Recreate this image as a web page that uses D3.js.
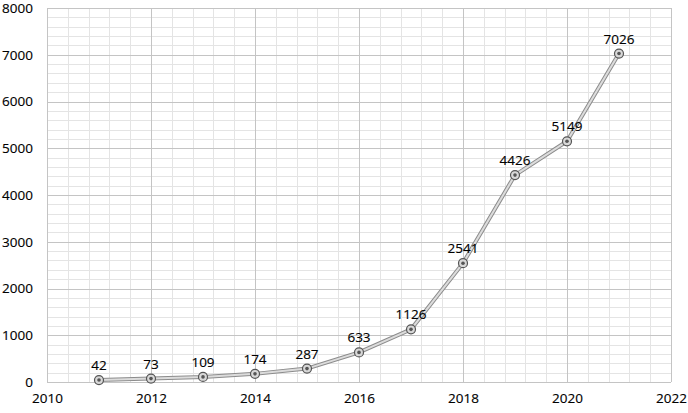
<!DOCTYPE html>
<html>
<head>
<meta charset="utf-8">
<script src="https://cdn.jsdelivr.net/npm/d3@7"></script>
<style>
  body { margin: 0; background: #fff; }
  text { font-family: "Open Sans", sans-serif; }
</style>
</head>
<body>
<svg id="chart"></svg>
<script>
const years = [2011, 2012, 2013, 2014, 2015, 2016, 2017, 2018, 2019, 2020, 2021];
const counts = [42, 73, 109, 174, 287, 633, 1126, 2541, 4426, 5149, 7026];
const xTicks = [2010, 2012, 2014, 2016, 2018, 2020, 2022];
const yTicks = [0, 1000, 2000, 3000, 4000, 5000, 6000, 7000, 8000];

const data = years.map((y, i) => ({ year: y, value: counts[i] }));

const margin = { top: 8, bottom: 31, left: 47, right: 17 };
const W = 688, H = 413;
const width = W - margin.left - margin.right;
const height = H - margin.top - margin.bottom;

const svg = d3.select("#chart").attr("width", W).attr("height", H);
const g = svg.append("g").attr("transform", `translate(${margin.left},${margin.top})`);

const xscale = d3.scaleLinear().domain([2010, 2022]).range([0, width]);
const yscale = d3.scaleLinear().domain([0, 8000]).range([height, 0]);

// minor grid
const xMinor = d3.range(2010, 2022.001, 0.4);
const yMinor = d3.range(0, 8000.1, 200);
g.append("g").selectAll("line").data(xMinor).join("line")
  .attr("x1", d => Math.round(xscale(d)) + 0.5).attr("x2", d => Math.round(xscale(d)) + 0.5)
  .attr("y1", 0).attr("y2", height)
  .attr("stroke", "#e4e4e4").attr("stroke-width", 1);
g.append("g").selectAll("line").data(yMinor).join("line")
  .attr("y1", d => Math.round(yscale(d)) + 0.5).attr("y2", d => Math.round(yscale(d)) + 0.5)
  .attr("x1", 0).attr("x2", width)
  .attr("stroke", "#e4e4e4").attr("stroke-width", 1);

// major grid
g.append("g").selectAll("line").data(xTicks).join("line")
  .attr("x1", d => Math.round(xscale(d)) + 0.5).attr("x2", d => Math.round(xscale(d)) + 0.5)
  .attr("y1", 0).attr("y2", height)
  .attr("stroke", "#c4c4c4").attr("stroke-width", 1);
g.append("g").selectAll("line").data(yTicks).join("line")
  .attr("y1", d => Math.round(yscale(d)) + 0.5).attr("y2", d => Math.round(yscale(d)) + 0.5)
  .attr("x1", 0).attr("x2", width)
  .attr("stroke", "#c4c4c4").attr("stroke-width", 1);

// axes
const xaxis = d3.axisBottom(xscale).tickValues(xTicks).tickFormat(d3.format("d")).tickSize(0).tickPadding(11);
const yaxis = d3.axisLeft(yscale).tickValues(yTicks).tickFormat(d3.format("d")).tickSize(0).tickPadding(14);
const gx = g.append("g").attr("transform", `translate(0,${height})`).call(xaxis);
const gy = g.append("g").call(yaxis);
[gx, gy].forEach(a => {
  a.select(".domain").remove();
  a.selectAll("text").attr("font-size", 13.5).attr("fill", "#000")
    .attr("stroke", "#000").attr("stroke-width", 0.15)
    .style("font-family", "'Open Sans', sans-serif");
});

// line (double stroke look)
const line = d3.line().x(d => xscale(d.year)).y(d => yscale(d.value));
g.append("path").datum(data).attr("d", line)
  .attr("fill", "none").attr("stroke", "#8c8c8c").attr("stroke-width", 4);
g.append("path").datum(data).attr("d", line)
  .attr("fill", "none").attr("stroke", "#dcdcdc").attr("stroke-width", 2);

// markers
const pts = g.append("g").selectAll("g").data(data).join("g")
  .attr("transform", d => `translate(${xscale(d.year)},${yscale(d.value)})`);
pts.append("circle").attr("r", 4.5).attr("fill", "#d8d8d8").attr("stroke", "#555").attr("stroke-width", 1.2);
pts.append("circle").attr("r", 1.8).attr("fill", "#555");

// labels
g.append("g").selectAll("text").data(data).join("text")
  .attr("x", d => xscale(d.year))
  .attr("y", d => yscale(d.value) - 10)
  .attr("text-anchor", "middle")
  .attr("font-size", 13.5)
  .attr("fill", "#000")
  .attr("stroke", "#000").attr("stroke-width", 0.15)
  .text(d => d.value);
</script>
</body>
</html>
